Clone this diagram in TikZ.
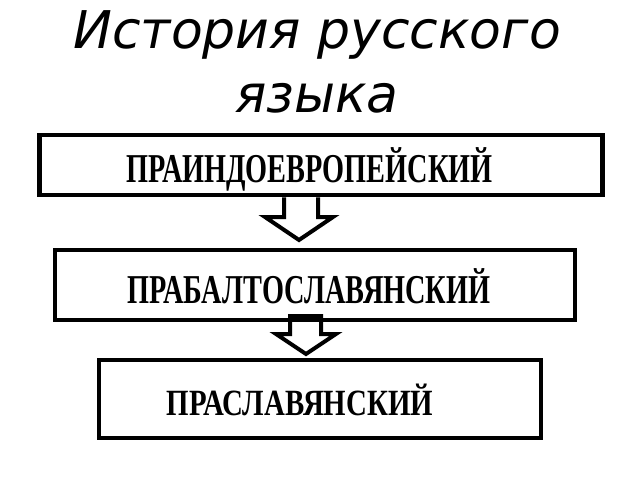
\documentclass[tikz,border=0pt]{standalone}
\usepackage{fontspec}
\newfontfamily\titlefont{DejaVu Sans}
\newfontfamily\stagefont{Liberation Serif}

\begin{document}
\begin{tikzpicture}[x=1pt, y=-1pt,
    stagebox/.style={draw, line width=4.5pt, inner sep=0pt},
    stagetext/.style={anchor=base, inner sep=0pt, font=\stagefont\bfseries},
    hollowarrow/.style={draw, line width=4pt, miter limit=20}]
    \useasboundingbox (0,0) rectangle (640,480);
    % title
    \node[anchor=base, font=\titlefont\itshape\fontsize{52}{64}\selectfont] (title1) at (317,48) {История русского};
    \node[anchor=base, font=\titlefont\itshape\fontsize{52}{64}\selectfont] (title2) at (317,112) {языка};
    % stages
    \node[stagebox, minimum width=563pt, minimum height=60pt] (b1) at (321,165) {};
    \node[stagebox, minimum width=520pt, minimum height=70pt] (b2) at (315,285) {};
    \node[stagebox, minimum width=442pt, minimum height=78pt] (b3) at (320,399) {};
    \node[stagetext] (t1) at (309.5,182) {\fontsize{41}{41}\selectfont\scalebox{0.69}[1]{ПРАИНДОЕВРОПЕЙСКИЙ}};
    \node[stagetext] (t2) at (309,303) {\fontsize{41}{41}\selectfont\scalebox{0.69}[1]{ПРАБАЛТОСЛАВЯНСКИЙ}};
    \node[stagetext] (t3) at (300,415) {\fontsize{37}{37}\selectfont\scalebox{0.78}[1]{ПРАСЛАВЯНСКИЙ}};
    % arrows
    \draw[hollowarrow] (b1.south -| 284,0) -- (284,217) -- (265,217) -- (299,240)
      -- (333,217) -- (318,217) -- (b1.south -| 318,0);
    \draw[hollowarrow] (290,316) -- (290,334) -- (276,334) -- (306,354)
      -- (336,334) -- (321,334) -- (321,316) -- cycle;
\end{tikzpicture}
\end{document}
